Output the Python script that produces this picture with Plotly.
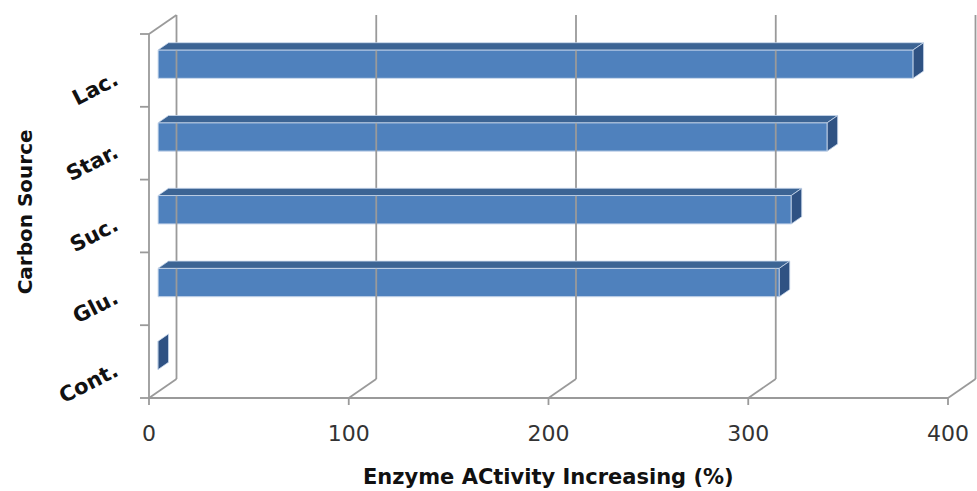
import plotly.graph_objects as go

# ---- data ----
categories = ["Cont.", "Glu.", "Suc.", "Star.", "Lac."]
values = [0, 311, 317, 335, 378]
x_ticks = [0, 100, 200, 300, 400]
x_title = "Enzyme ACtivity Increasing (%)"
y_title = "Carbon Source"

# ---- 3D-look geometry (in data units) ----
PXX = 1.9975            # px per x unit
PXY = 72.8              # px per category
DX = 27.5 / PXX         # wall depth offset (x)
DY = 19.0 / PXY         # wall depth offset (y)
T0, T1 = 0.33, 0.71     # bar depth (front/back fraction)
H = 0.39                # bar thickness (category units)
XMAX = x_ticks[-1]
n = len(categories)
ybot, ytop = -0.5, n - 0.5

GRID = "#9a9a9a"
FRONT = "#4F81BD"
TOP = "#3C6494"
SIDE = "#2F5283"

fig = go.Figure()

# wall / floor / ticks lines
lx, ly = [], []
def seg(x0, y0, x1, y1):
    lx.extend([x0, x1, None]); ly.extend([y0, y1, None])

seg(0, ybot, XMAX, ybot)                           # front floor edge
for v in x_ticks:
    seg(v, ybot, v + DX, ybot + DY)                # floor diagonals
    seg(v + DX, ybot + DY, v + DX, ytop + DY)      # back wall gridlines
    seg(v, ybot, v, ybot - 7 / PXY)                # x tick marks
seg(0, ybot, 0, ytop)                              # left wall front edge
seg(0, ytop, DX, ytop + DY)                        # left wall top edge
for k in range(n + 1):
    seg(-9 / PXX, ybot + k, 0, ybot + k)           # y tick marks

fig.add_trace(go.Scatter(x=lx, y=ly, mode="lines",
                         line=dict(color=GRID, width=1.8),
                         hoverinfo="skip", showlegend=False))

x0 = DX * T0
ddx = DX * (T1 - T0)
ddy = DY * (T1 - T0)
ypos = [i + DY * T0 for i in range(n)]

# front faces
fig.add_trace(go.Bar(orientation="h", y=ypos, x=values, base=x0, width=H,
                     marker=dict(color=FRONT, line=dict(color="#c9d8ec", width=1)),
                     showlegend=False))

# top and side faces
for yc, v in zip(ypos, values):
    yt, yb = yc + H / 2, yc - H / 2
    if v > 0:
        fig.add_trace(go.Scatter(
            x=[x0, x0 + v, x0 + v + ddx, x0 + ddx, x0],
            y=[yt, yt, yt + ddy, yt + ddy, yt],
            mode="lines", fill="toself", fillcolor=TOP,
            line=dict(color="#c9d8ec", width=0.8),
            hoverinfo="skip", showlegend=False))
    fig.add_trace(go.Scatter(
        x=[x0 + v, x0 + v, x0 + v + ddx, x0 + v + ddx, x0 + v],
        y=[yb, yt, yt + ddy, yb + ddy, yb],
        mode="lines", fill="toself", fillcolor=SIDE,
        line=dict(color="#c9d8ec", width=0.8),
        hoverinfo="skip", showlegend=False))

L, R, T, B = 138, 0, 14, 81
W, Hh = 977, 491
xr0 = (L - 149) / PXX
xr1 = (W - R - 149) / PXX
yr0 = ybot - ((Hh - B) - 398) / PXY
yr1 = ybot + (398 - T) / PXY

fig.update_layout(
    width=W, height=Hh, autosize=False,
    margin=dict(l=L, r=R, t=T, b=B),
    paper_bgcolor="white", plot_bgcolor="white",
    showlegend=False,
    xaxis=dict(range=[xr0, xr1], tickvals=x_ticks, ticks="",
               showgrid=False, zeroline=False, showline=False,
               ticklabelstandoff=8,
               tickfont=dict(family="DejaVu Sans", size=22, color="#333333")),
    yaxis=dict(range=[yr0, yr1], tickvals=[i - 0.1 for i in range(n)],
               ticktext=categories,
               ticks="", tickangle=-27, showgrid=False, zeroline=False,
               showline=False, ticklabelstandoff=22,
               tickfont=dict(family="DejaVu Sans", size=21, color="#111111",
                             weight="bold")),
    annotations=[
        dict(text=x_title, xref="x", yref="paper", x=XMAX / 2, y=0,
             yshift=-(477 - (Hh - B)), yanchor="middle", xanchor="center",
             showarrow=False,
             font=dict(family="DejaVu Sans", size=21, color="#111111", weight="bold")),
        dict(text=y_title, xref="x", yref="y", x=xr0, xshift=-(L - 25),
             y=(ybot + ytop) / 2 + 0.05, xanchor="center", yanchor="middle",
             textangle=-90, showarrow=False,
             font=dict(family="DejaVu Sans", size=20, color="#111111", weight="bold")),
    ],
)

fig.write_html("out.html", config={"displayModeBar": False},
               post_script="document.body.style.margin='0';document.body.style.overflow='hidden';")
